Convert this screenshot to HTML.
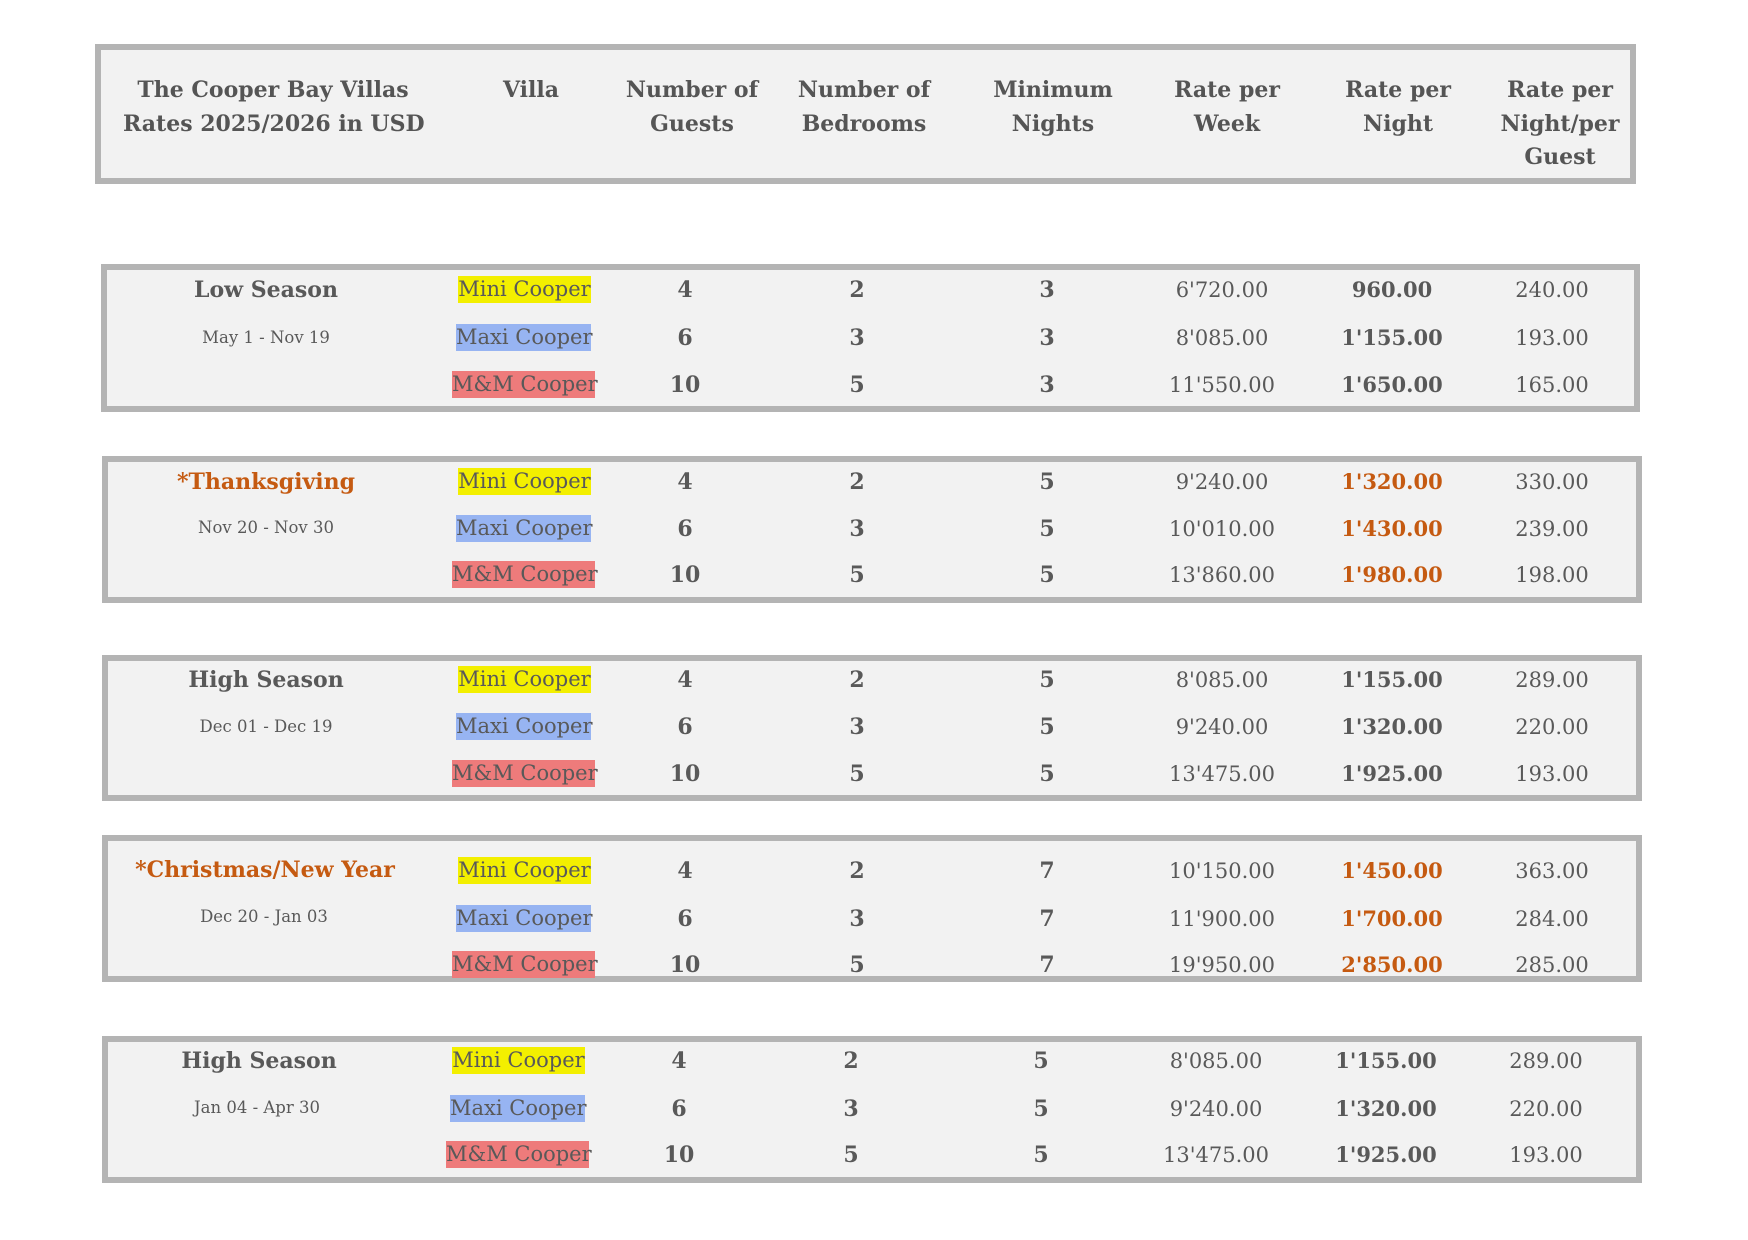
<!DOCTYPE html>
<html>
<head>
<meta charset="utf-8">
<style>
  html,body{margin:0;padding:0;background:#fff;}
  body{width:1748px;height:1240px;position:relative;overflow:hidden;
       font-family:"DejaVu Serif","Liberation Serif",serif;color:#595959;}
  .box{position:absolute;box-sizing:border-box;border:6px solid #b4b4b4;background:#f2f2f2;}
  .t{position:absolute;width:300px;margin-left:-150px;text-align:center;height:30px;line-height:30px;margin-top:-15px;white-space:nowrap;}
  .h{position:absolute;width:300px;margin-left:-150px;text-align:center;white-space:nowrap;
     font-weight:bold;font-size:22px;line-height:33.5px;top:74px;color:#555;}
  .sl{font-weight:bold;font-size:22px;}
  .sd{font-size:16.5px;}
  .b{font-weight:bold;font-size:22px;}
  .w{font-size:21px;}
  .n{font-weight:bold;font-size:21px;}
  .g{font-size:21px;}
  .o{color:#c55a11;}
  .hl{position:absolute;height:27px;line-height:27px;font-size:21px;text-align:center;white-space:nowrap;overflow:visible;}
  .y{background:#f3ef00;}
  .bl{background:#97b4f2;}
  .r{background:#ee7b7b;}
</style>
</head>
<body>

<!-- Header -->
<div class="box" style="left:95px;top:44px;width:1541px;height:140px;"></div>
<div class="h" style="left:273px;">The Cooper Bay Villas<br>Rates 2025/2026 in USD</div>
<div class="h" style="left:531px;">Villa</div>
<div class="h" style="left:692px;">Number of<br>Guests</div>
<div class="h" style="left:864px;">Number of<br>Bedrooms</div>
<div class="h" style="left:1053px;">Minimum<br>Nights</div>
<div class="h" style="left:1227px;">Rate per<br>Week</div>
<div class="h" style="left:1398px;">Rate per<br>Night</div>
<div class="h" style="left:1560px;">Rate per<br>Night/per<br>Guest</div>

<!-- Box 1: Low Season -->
<div class="box" style="left:101px;top:264px;width:1539px;height:148px;"></div>
<div class="t sl" style="left:266px;top:290px;">Low Season</div>
<div class="t sd" style="left:266px;top:338px;">May 1 - Nov 19</div>
<div class="hl y" style="left:458px;top:276px;width:133px;">Mini Cooper</div>
<div class="hl bl" style="left:456px;top:324px;width:135px;">Maxi Cooper</div>
<div class="hl r" style="left:452px;top:371px;width:143px;">M&amp;M Cooper</div>
<div class="t b" style="left:685px;top:290px;">4</div>
<div class="t b" style="left:685px;top:338px;">6</div>
<div class="t b" style="left:685px;top:385px;">10</div>
<div class="t b" style="left:857px;top:290px;">2</div>
<div class="t b" style="left:857px;top:338px;">3</div>
<div class="t b" style="left:857px;top:385px;">5</div>
<div class="t b" style="left:1047px;top:290px;">3</div>
<div class="t b" style="left:1047px;top:338px;">3</div>
<div class="t b" style="left:1047px;top:385px;">3</div>
<div class="t w" style="left:1222px;top:290px;">6'720.00</div>
<div class="t w" style="left:1222px;top:338px;">8'085.00</div>
<div class="t w" style="left:1222px;top:385px;">11'550.00</div>
<div class="t n" style="left:1392px;top:290px;">960.00</div>
<div class="t n" style="left:1392px;top:338px;">1'155.00</div>
<div class="t n" style="left:1392px;top:385px;">1'650.00</div>
<div class="t g" style="left:1552px;top:290px;">240.00</div>
<div class="t g" style="left:1552px;top:338px;">193.00</div>
<div class="t g" style="left:1552px;top:385px;">165.00</div>

<!-- Box 2: Thanksgiving -->
<div class="box" style="left:102px;top:456px;width:1540px;height:147px;"></div>
<div class="t sl o" style="left:266px;top:482px;">*Thanksgiving</div>
<div class="t sd" style="left:266px;top:528px;">Nov 20 - Nov 30</div>
<div class="hl y" style="left:458px;top:468px;width:133px;">Mini Cooper</div>
<div class="hl bl" style="left:456px;top:515px;width:135px;">Maxi Cooper</div>
<div class="hl r" style="left:452px;top:561px;width:143px;">M&amp;M Cooper</div>
<div class="t b" style="left:685px;top:482px;">4</div>
<div class="t b" style="left:685px;top:529px;">6</div>
<div class="t b" style="left:685px;top:575px;">10</div>
<div class="t b" style="left:857px;top:482px;">2</div>
<div class="t b" style="left:857px;top:529px;">3</div>
<div class="t b" style="left:857px;top:575px;">5</div>
<div class="t b" style="left:1047px;top:482px;">5</div>
<div class="t b" style="left:1047px;top:529px;">5</div>
<div class="t b" style="left:1047px;top:575px;">5</div>
<div class="t w" style="left:1222px;top:482px;">9'240.00</div>
<div class="t w" style="left:1222px;top:529px;">10'010.00</div>
<div class="t w" style="left:1222px;top:575px;">13'860.00</div>
<div class="t n o" style="left:1392px;top:482px;">1'320.00</div>
<div class="t n o" style="left:1392px;top:529px;">1'430.00</div>
<div class="t n o" style="left:1392px;top:575px;">1'980.00</div>
<div class="t g" style="left:1552px;top:482px;">330.00</div>
<div class="t g" style="left:1552px;top:529px;">239.00</div>
<div class="t g" style="left:1552px;top:575px;">198.00</div>

<!-- Box 3: High Season -->
<div class="box" style="left:102px;top:655px;width:1540px;height:146px;"></div>
<div class="t sl" style="left:266px;top:680px;">High Season</div>
<div class="t sd" style="left:266px;top:727px;">Dec 01 - Dec 19</div>
<div class="hl y" style="left:458px;top:666px;width:133px;">Mini Cooper</div>
<div class="hl bl" style="left:456px;top:713px;width:135px;">Maxi Cooper</div>
<div class="hl r" style="left:452px;top:760px;width:143px;">M&amp;M Cooper</div>
<div class="t b" style="left:685px;top:680px;">4</div>
<div class="t b" style="left:685px;top:727px;">6</div>
<div class="t b" style="left:685px;top:774px;">10</div>
<div class="t b" style="left:857px;top:680px;">2</div>
<div class="t b" style="left:857px;top:727px;">3</div>
<div class="t b" style="left:857px;top:774px;">5</div>
<div class="t b" style="left:1047px;top:680px;">5</div>
<div class="t b" style="left:1047px;top:727px;">5</div>
<div class="t b" style="left:1047px;top:774px;">5</div>
<div class="t w" style="left:1222px;top:680px;">8'085.00</div>
<div class="t w" style="left:1222px;top:727px;">9'240.00</div>
<div class="t w" style="left:1222px;top:774px;">13'475.00</div>
<div class="t n" style="left:1392px;top:680px;">1'155.00</div>
<div class="t n" style="left:1392px;top:727px;">1'320.00</div>
<div class="t n" style="left:1392px;top:774px;">1'925.00</div>
<div class="t g" style="left:1552px;top:680px;">289.00</div>
<div class="t g" style="left:1552px;top:727px;">220.00</div>
<div class="t g" style="left:1552px;top:774px;">193.00</div>

<!-- Box 4: Christmas/New Year -->
<div class="box" style="left:102px;top:835px;width:1540px;height:147px;"></div>
<div class="t sl o" style="left:265px;top:870px;">*Christmas/New Year</div>
<div class="t sd" style="left:264px;top:917px;">Dec 20 - Jan 03</div>
<div class="hl y" style="left:458px;top:857px;width:133px;">Mini Cooper</div>
<div class="hl bl" style="left:456px;top:905px;width:135px;">Maxi Cooper</div>
<div class="hl r" style="left:452px;top:951px;width:143px;">M&amp;M Cooper</div>
<div class="t b" style="left:685px;top:871px;">4</div>
<div class="t b" style="left:685px;top:919px;">6</div>
<div class="t b" style="left:685px;top:965px;">10</div>
<div class="t b" style="left:857px;top:871px;">2</div>
<div class="t b" style="left:857px;top:919px;">3</div>
<div class="t b" style="left:857px;top:965px;">5</div>
<div class="t b" style="left:1047px;top:871px;">7</div>
<div class="t b" style="left:1047px;top:919px;">7</div>
<div class="t b" style="left:1047px;top:965px;">7</div>
<div class="t w" style="left:1222px;top:871px;">10'150.00</div>
<div class="t w" style="left:1222px;top:919px;">11'900.00</div>
<div class="t w" style="left:1222px;top:965px;">19'950.00</div>
<div class="t n o" style="left:1392px;top:871px;">1'450.00</div>
<div class="t n o" style="left:1392px;top:919px;">1'700.00</div>
<div class="t n o" style="left:1392px;top:965px;">2'850.00</div>
<div class="t g" style="left:1552px;top:871px;">363.00</div>
<div class="t g" style="left:1552px;top:919px;">284.00</div>
<div class="t g" style="left:1552px;top:965px;">285.00</div>

<!-- Box 5: High Season -->
<div class="box" style="left:102px;top:1036px;width:1540px;height:147px;"></div>
<div class="t sl" style="left:259px;top:1061px;">High Season</div>
<div class="t sd" style="left:257px;top:1108px;">Jan 04 - Apr 30</div>
<div class="hl y" style="left:452px;top:1047px;width:133px;">Mini Cooper</div>
<div class="hl bl" style="left:450px;top:1095px;width:135px;">Maxi Cooper</div>
<div class="hl r" style="left:446px;top:1141px;width:143px;">M&amp;M Cooper</div>
<div class="t b" style="left:679px;top:1061px;">4</div>
<div class="t b" style="left:679px;top:1109px;">6</div>
<div class="t b" style="left:679px;top:1155px;">10</div>
<div class="t b" style="left:851px;top:1061px;">2</div>
<div class="t b" style="left:851px;top:1109px;">3</div>
<div class="t b" style="left:851px;top:1155px;">5</div>
<div class="t b" style="left:1041px;top:1061px;">5</div>
<div class="t b" style="left:1041px;top:1109px;">5</div>
<div class="t b" style="left:1041px;top:1155px;">5</div>
<div class="t w" style="left:1216px;top:1061px;">8'085.00</div>
<div class="t w" style="left:1216px;top:1109px;">9'240.00</div>
<div class="t w" style="left:1216px;top:1155px;">13'475.00</div>
<div class="t n" style="left:1386px;top:1061px;">1'155.00</div>
<div class="t n" style="left:1386px;top:1109px;">1'320.00</div>
<div class="t n" style="left:1386px;top:1155px;">1'925.00</div>
<div class="t g" style="left:1546px;top:1061px;">289.00</div>
<div class="t g" style="left:1546px;top:1109px;">220.00</div>
<div class="t g" style="left:1546px;top:1155px;">193.00</div>

</body>
</html>
